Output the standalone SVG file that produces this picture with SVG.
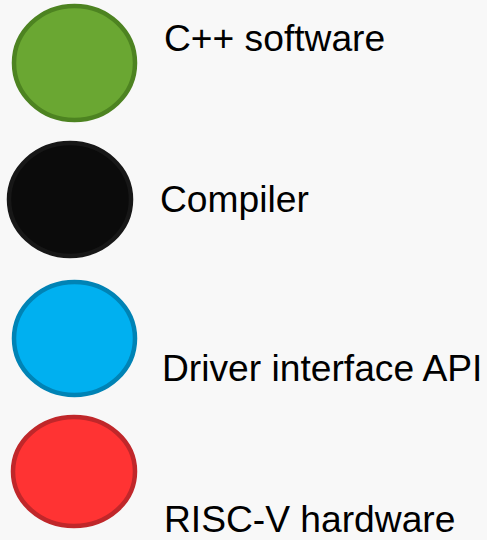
<svg xmlns="http://www.w3.org/2000/svg" width="487" height="540" viewBox="0 0 487 540">
<style>
.lbl{font-family:"Liberation Sans",Arial,sans-serif;font-size:37.2px;fill:#000}
.c{stroke-width:4.5}
</style>
<rect width="487" height="540" fill="#f8f8f8"/>
<g id="node-cpp">
<ellipse class="c" cx="74.5" cy="63" rx="60.5" ry="57" fill="#6aa732" stroke="#4d8321"/>
<text class="lbl" x="164" y="51">C++ software</text>
</g>
<g id="node-compiler">
<ellipse class="c" cx="70" cy="199.5" rx="61" ry="56.5" fill="#0b0b0b" stroke="#171717"/>
<text class="lbl" x="160" y="212">Compiler</text>
</g>
<g id="node-driver">
<ellipse class="c" cx="74.5" cy="338.5" rx="60.5" ry="56.5" fill="#00b0f0" stroke="#0083b5"/>
<text class="lbl" x="162" y="381">Driver interface API</text>
</g>
<g id="node-riscv">
<ellipse class="c" cx="74" cy="471.5" rx="61" ry="54.5" fill="#ff3333" stroke="#c0272a"/>
<text class="lbl" x="164" y="532">RISC-V hardware</text>
</g>
<g id="connectors"/>
</svg>
